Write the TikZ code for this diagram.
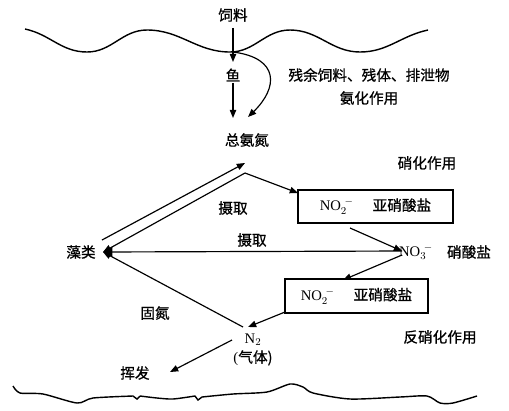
\documentclass[tikz,border=0pt]{standalone}
\usepackage{fontspec}
\setmainfont{Liberation Serif}
\newfontfamily\cjk[FakeBold=0.8]{Noto Sans CJK SC}
\usetikzlibrary{arrows.meta}
\begin{document}
\begin{tikzpicture}[x=0.03cm,y=-0.03cm,
  zh/.style={font=\cjk\fontsize{12.5}{14}\selectfont, inner sep=1pt},
  chem/.style={font=\fontsize{12.5}{14}\selectfont, inner sep=1pt},
  ar/.style={-{Triangle[length=7pt,width=5.5pt]}, line width=1pt},
  bigar/.style={-{Triangle[length=8pt,width=8pt]}, line width=1pt},
  wave/.style={line width=1.2pt},
  boxs/.style={draw, line width=0.9pt, inner sep=0pt, font=\fontsize{12.5}{14}\selectfont}]
\useasboundingbox (0,0) rectangle (509,410);
% surface wave
\draw[wave] (25,29) to[out=-12,in=180] (87,52) to[out=0,in=180] (147,30)
  to[out=0,in=180] (230,52) to[out=0,in=180] (290,30) to[out=0,in=180] (360,52)
  to[out=0,in=192] (428,30);
% bottom
\draw[wave] plot[smooth,tension=0.45] coordinates {(13,386) (20,393) (43,394) (77,403) (93,398) (133,396)}
  -- (137,399) -- (140,396) plot[smooth,tension=0.45] coordinates {(140,396) (157,398) (173,399) (195,396)}
  -- (198,400) -- (202,397) plot[smooth,tension=0.45] coordinates {(202,397) (233,394) (267,392) (290,384) (303,387) (313,393) (350,399) (400,397) (427,396) (440,403) (453,403) (477,396)};

% text nodes
\node[zh] (feed) at (233,15) {饲料};
\node[zh] (fish) at (233,75) {鱼};
\node[zh] (resid) at (369,75) {残余饲料、残体、排泄物};
\node[zh] (ammon) at (369,98) {氨化作用};
\node[zh] (tan) at (247,140) {总氨氮};
\node[zh] (nitr) at (427,163) {硝化作用};
\node[zh] (algae) at (81,252) {藻类};
\node[zh] (up1) at (233,208) {摄取};
\node[zh] (up2) at (252,240) {摄取};
\node[chem] (no3) at (416,252) {NO$_3^{\,\,-}$};
\node[zh] (nitrate) at (469,252) {硝酸盐};
\node[zh] (fix) at (155,313) {固氮};
\node[chem] (n2) at (253,340) {N$_2$};
\node[chem] (gas) at (253,358) {(\cjk 气体)};
\node[zh] (vol) at (135,373) {挥发};
\node[zh] (denit) at (440,337) {反硝化作用};
\node[boxs, minimum width=4.65cm, minimum height=0.99cm] (box1) at (375.5,206.5)
  {NO$_2^{\,\,-}$\hspace{1.3em}{\cjk 亚硝酸盐}};
\node[boxs, minimum width=4.29cm, minimum height=1.02cm] (box2) at (356.5,296)
  {NO$_2^{\,\,-}$\hspace{1.3em}{\cjk 亚硝酸盐}};

% junction coordinates
\coordinate (s1) at (233,52);
\coordinate (e2) at (248,117);
\coordinate (a1) at (102,240);
\coordinate (t1) at (245,163);
\coordinate (t2) at (245,173);
\coordinate (tip) at (103,252);
\coordinate (b1in) at (298,193);
\coordinate (b1out) at (350,228);
\coordinate (no3w) at (402,251);
\coordinate (no3s) at (402,255);
\coordinate (b2in) at (343,280);
\coordinate (b2out) at (285,312);
\coordinate (n2in) at (248,327);
\coordinate (n2j) at (243,327);
\coordinate (n2o) at (232,340);
\coordinate (volin) at (170,372);
\coordinate (fishin) at (233,62);
\coordinate (tanin) at (233,118);

% connectors
\draw[ar, shorten <=4pt] (feed) -- (fishin);
\draw[ar] (fish) -- (tanin);
\draw[ar] (s1) .. controls (280,58) and (278,88) .. (e2);
\draw[ar] (a1) -- (t1);
\draw[ar] (t2) -- (tip);
\draw[ar] (t2) -- (b1in);
\draw[ar] (b1out) -- (no3w);
\draw[bigar] (no3w) -- (tip);
\draw[ar] (no3s) -- (b2in);
\draw[ar] (b2out) -- (n2in);
\draw[ar] (n2j) -- (tip);
\draw[ar] (n2o) -- (volin);
\end{tikzpicture}
\end{document}
